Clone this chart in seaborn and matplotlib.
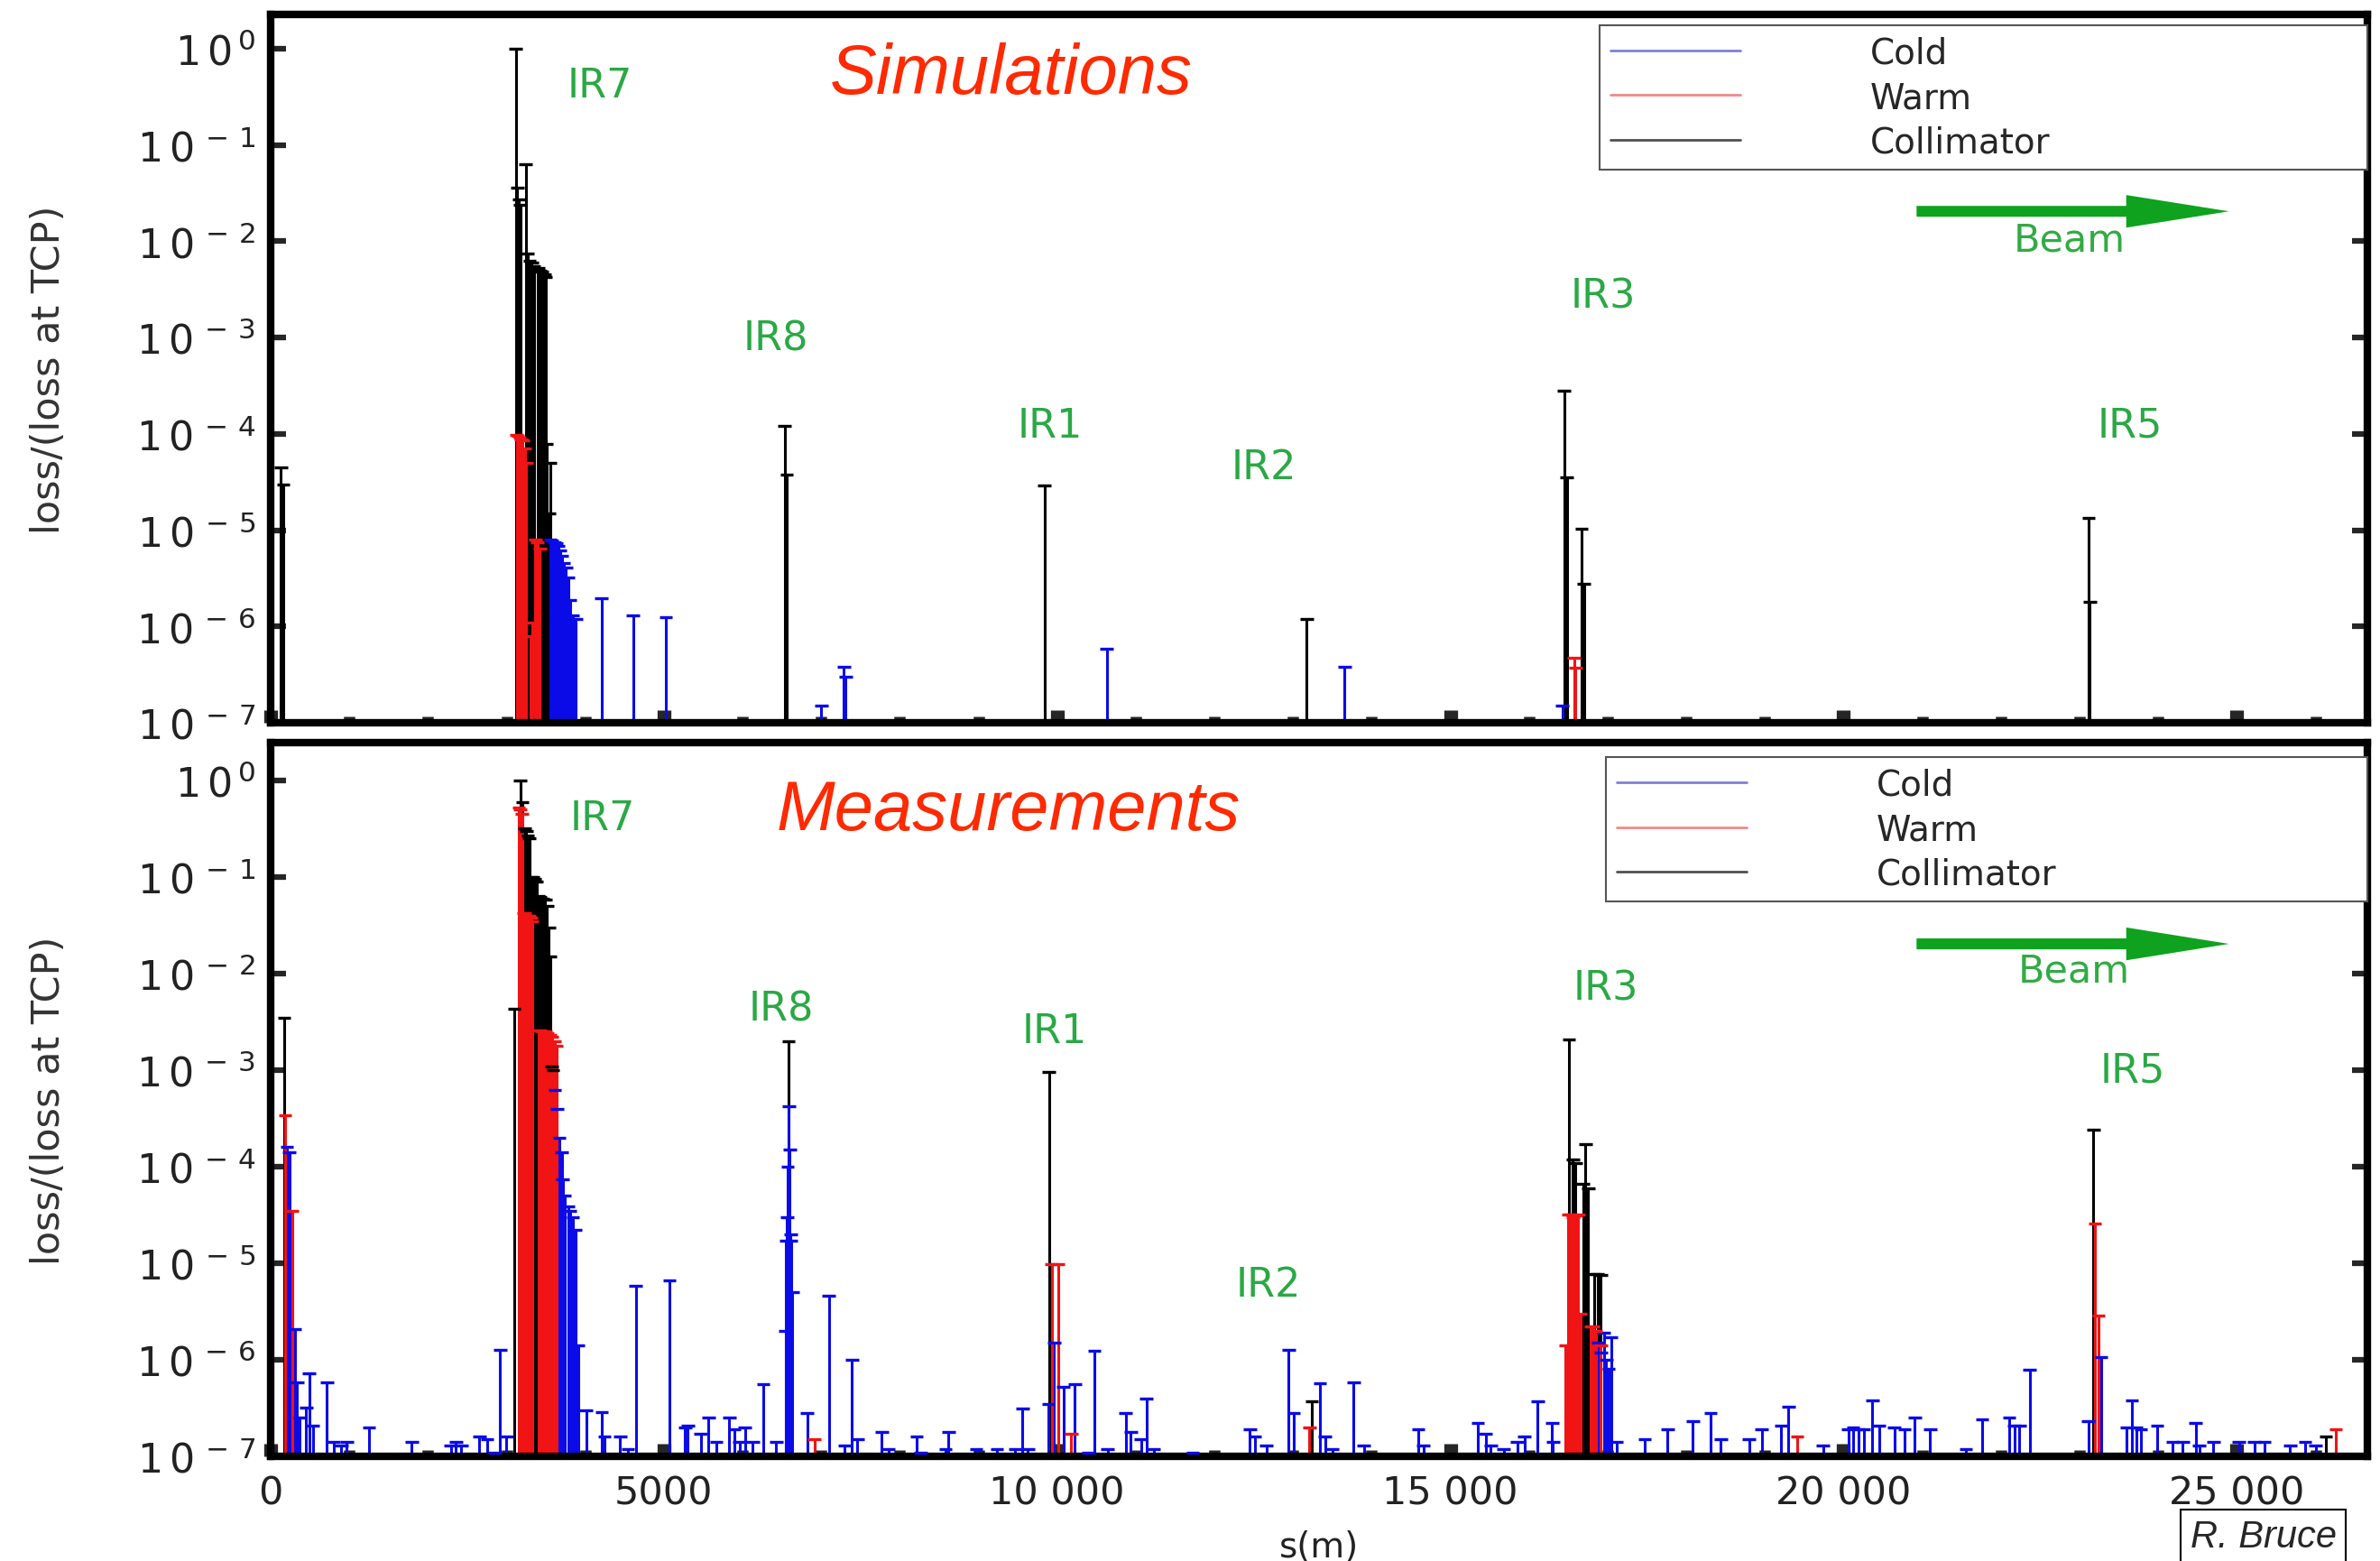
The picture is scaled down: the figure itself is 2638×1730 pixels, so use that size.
import matplotlib
matplotlib.use("Agg")
import pandas as pd
import matplotlib.pyplot as plt
import seaborn as sns
from matplotlib.lines import Line2D
from matplotlib.patches import FancyArrow
from matplotlib.ticker import MultipleLocator, NullLocator, NullFormatter

# ---------------- data (s in m, loss normalised to loss at TCP) ----------------
top_cold_s = [3555, 3580, 3605, 3630, 3655, 3680, 3705, 3730, 3755, 3780, 3803,
              3842, 3880, 4205, 4606, 5026, 7000, 7290, 7310, 10630, 13656, 16422]
top_cold_v = [7.9e-6, 7.8e-6, 7.5e-6, 7.3e-6, 6.9e-6, 6.2e-6, 5.4e-6, 4.6e-6, 4.1e-6, 3.2e-6, 1.9e-6,
              1.3e-6, 1.2e-6, 1.95e-6, 1.3e-6, 1.25e-6, 1.5e-7, 3.8e-7, 3.0e-7, 5.9e-7, 3.8e-7, 1.5e-7]

top_warm_s = [3127, 3145, 3165, 3185, 3205, 3230, 3249, 3306, 3330, 3364, 3390, 3421, 16571, 16590]
top_warm_v = [9.8e-5, 9.5e-5, 9.2e-5, 8.8e-5, 8.5e-5, 7.0e-5, 5.0e-5, 8.0e-7, 1.1e-6, 8.0e-6, 7.5e-6, 6.5e-6,
              4.7e-7, 3.7e-7]

top_coll_s = [130, 160, 3116, 3135, 3155, 3173, 3241, 3268, 3290, 3320, 3345, 3400, 3421, 3450, 3479, 3497,
              3509, 3536, 3555, 6535, 6560, 9838, 13173, 16445, 16480, 16667, 16697, 23115, 23130]
top_coll_v = [4.5e-5, 3.0e-5, 1.0, 0.036, 0.027, 0.024, 0.063, 7.5e-3, 6.3e-3, 6.0e-3, 5.5e-3, 5.3e-3, 5.0e-3,
              4.8e-3, 4.5e-3, 4.3e-3, 7.9e-5, 1.5e-5, 5.0e-5, 1.2e-4, 3.8e-5, 2.9e-5, 1.2e-6, 2.8e-4, 3.5e-5,
              1.04e-5, 2.8e-6, 1.34e-5, 1.8e-6]

bot_cold_s = [205, 238, 305, 338, 371, 450, 490, 536, 715, 801, 900, 967, 1251, 1794, 2291, 2357, 2423, 2655,
              2754, 2853, 2919, 2999,
              3612, 3640, 3670, 3700, 3714, 3740, 3780, 3810, 3845, 3879, 3912, 4012, 4210, 4243, 4442, 4541,
              4641, 5071, 5270, 5303, 5468, 5567, 5667, 5832, 5898, 5960, 6031, 6130, 6262, 6428,
              6545, 6555, 6565, 6575, 6590, 6600, 6610, 6620, 6635,
              6821, 7097, 7294, 7393, 7460, 7770, 7856, 8212, 8265, 8580, 8620, 8970, 9232, 9462, 9561, 9627, 9890,
              9960, 10080, 10225, 10396, 10475, 10640, 10870, 10935, 11067, 11133, 11232, 11725,
              12450, 12516, 12661, 12944, 13010, 13339, 13405, 13504, 13768, 13900, 14591, 14657, 15349, 15448,
              15514, 15678, 15850, 15942, 16111, 16293, 16305,
              16882, 16914, 16950, 16980, 17010, 17044, 17110, 17470, 17760, 18083, 18310, 18439, 18796, 18957,
              19203, 19300, 19738, 20060, 20120, 20190, 20255, 20365, 20450, 20645, 20775, 20905, 21100, 21555,
              21760, 22105, 22170, 22235, 22365,
              23112, 23275, 23600, 23664, 23720, 23780, 23988, 24183, 24313, 24475, 24520, 24702, 25027, 25222,
              25352, 25676, 25870, 26000]
bot_cold_v = [1.6e-4, 1.4e-4, 2.1e-6, 5.9e-7, 2.5e-7, 3.2e-7, 7.2e-7, 2.1e-7, 5.9e-7, 1.4e-7, 1.3e-7, 1.4e-7,
              2.0e-7, 1.4e-7, 1.3e-7, 1.4e-7, 1.3e-7, 1.6e-7, 1.5e-7, 1.1e-7, 1.26e-6, 1.6e-7,
              6.2e-4, 4.0e-4, 2.0e-4, 1.4e-4, 7.4e-5, 5.0e-5, 3.9e-5, 3.5e-5, 3.0e-5, 2.2e-5, 1.4e-6, 3.0e-7,
              2.9e-7, 1.6e-7, 1.6e-7, 1.2e-7, 5.9e-6, 6.6e-6, 2.0e-7, 2.1e-7, 1.7e-7, 2.5e-7, 1.4e-7, 2.5e-7,
              1.9e-7, 1.4e-7, 2.0e-7, 1.4e-7, 5.6e-7, 1.4e-7,
              2.0e-6, 1.7e-5, 3.0e-5, 1.0e-4, 4.2e-4, 1.5e-4, 2.0e-5, 1.7e-5, 5.0e-6,
              2.8e-7, 4.6e-6, 1.3e-7, 1.0e-6, 1.5e-7, 1.8e-7, 1.2e-7, 1.6e-7, 1.1e-7, 1.2e-7, 1.8e-7, 1.2e-7,
              1.2e-7, 1.2e-7, 3.1e-7, 1.2e-7, 3.5e-7,
              1.5e-6, 5.2e-7, 5.6e-7, 1.1e-7, 1.25e-6, 1.2e-7, 2.8e-7, 1.8e-7, 1.5e-7, 4.0e-7, 1.2e-7, 1.1e-7,
              1.9e-7, 1.6e-7, 1.3e-7, 1.26e-6, 2.8e-7, 5.7e-7, 1.6e-7, 1.2e-7, 5.9e-7, 1.3e-7, 1.9e-7, 1.3e-7,
              2.2e-7, 1.7e-7, 1.3e-7, 1.2e-7, 1.4e-7, 1.6e-7, 3.7e-7, 2.2e-7, 1.4e-7,
              1.5e-6, 1.2e-6, 1.9e-6, 1.0e-6, 8.0e-7, 1.7e-6, 1.4e-7, 1.5e-7, 1.9e-7, 2.3e-7, 2.8e-7, 1.5e-7,
              1.5e-7, 1.9e-7, 2.1e-7, 3.3e-7, 1.3e-7, 1.9e-7, 2.0e-7, 1.9e-7, 1.9e-7, 3.8e-7, 2.1e-7, 2.0e-7,
              1.9e-7, 2.5e-7, 1.9e-7, 1.2e-7, 2.4e-7, 2.5e-7, 2.1e-7, 2.1e-7, 7.9e-7,
              2.3e-7, 1.07e-6, 2.0e-7, 3.8e-7, 2.0e-7, 1.9e-7, 2.1e-7, 1.4e-7, 1.4e-7, 2.2e-7, 1.3e-7, 1.4e-7,
              1.4e-7, 1.4e-7, 1.4e-7, 1.3e-7, 1.4e-7, 1.3e-7]

bot_warm_s = [185, 271, 3154, 3175, 3195, 3211, 3230, 3250, 3270, 3290, 3310, 3326, 3402, 3430, 3460, 3490,
              3520, 3550, 3580, 3610, 3632, 6913, 9930, 10010, 10178, 13207, 16463, 16495, 16530, 16560, 16590,
              16625, 16655, 16785, 16815, 16850, 16914, 19410, 23196, 23240, 26260]
bot_warm_v = [3.4e-4, 3.5e-5, 0.52, 0.50, 0.45, 0.042, 0.042, 0.040, 0.040, 0.040, 0.038, 0.035, 2.6e-3,
              2.6e-3, 2.5e-3, 2.5e-3, 2.4e-3, 2.3e-3, 2.2e-3, 2.0e-3, 1.8e-3, 1.5e-7, 9.8e-6, 9.8e-6, 1.7e-7,
              2.0e-7, 1.4e-6, 3.2e-5, 3.2e-5, 3.0e-5, 3.1e-5, 3.2e-5, 3.0e-6, 2.2e-6, 2.2e-6, 2.0e-6, 1.4e-6,
              1.6e-7, 2.6e-5, 2.9e-6, 1.9e-7]

bot_coll_s = [172, 3098, 3173, 3203, 3230, 3250, 3270, 3288, 3307, 3330, 3360, 3383, 3402, 3430, 3460, 3490,
              3515, 3536, 3555, 3574, 3593, 6583, 9896, 13240, 16508, 16557, 16590, 16687, 16719, 16752, 16830,
              16870, 16914, 23177, 26130]
bot_coll_v = [3.5e-3, 4.3e-3, 1.0, 0.6, 0.32, 0.30, 0.27, 0.25, 0.10, 0.10, 0.095, 0.09, 0.063, 0.062, 0.060,
              0.058, 0.050, 0.030, 0.015, 1.1e-3, 1.0e-3, 2.0e-3, 9.6e-4, 3.7e-7, 2.1e-3, 1.2e-4, 1.1e-4, 6.6e-5,
              1.7e-4, 6.0e-5, 7.7e-6, 7.7e-6, 7.5e-6, 2.4e-4, 1.6e-7]

ir_names = ['IR7', 'IR8', 'IR1', 'IR2', 'IR3', 'IR5']
types = ['Cold', 'Warm', 'Collimator']
xtick_vals = [0, 5000, 10000, 15000, 20000, 25000]
xtick_labels = ['0', '5000', '10 000', '15 000', '20 000', '25 000']
ytick_exp = [0, -1, -2, -3, -4, -5, -6, -7]

# ---------------- style ----------------
sns.set_style("ticks")
plt.rcParams['font.family'] = ['DejaVu Sans']
plt.rcParams['mathtext.fontset'] = 'dejavusans'

colors = {'Cold': '#0b0be8', 'Warm': '#f01414', 'Collimator': '#000000'}
legend_colors = {'Cold': '#8080d8', 'Warm': '#f08a8a', 'Collimator': '#505050'}
ir_green = '#2aa845'
arrow_green = '#0ea21e'
title_red = '#ff2a00'
ymin = 1e-7


def make_df(cs, cv, ws, wv, ks, kv):
    return pd.concat([
        pd.DataFrame({'s': ks, 'loss': kv, 'type': 'Collimator'}),
        pd.DataFrame({'s': cs, 'loss': cv, 'type': 'Cold'}),
        pd.DataFrame({'s': ws, 'loss': wv, 'type': 'Warm'}),
    ], ignore_index=True)


top = make_df(top_cold_s, top_cold_v, top_warm_s, top_warm_v, top_coll_s, top_coll_v)
bot = make_df(bot_cold_s, bot_cold_v, bot_warm_s, bot_warm_v, bot_coll_s, bot_coll_v)

fig = plt.figure(figsize=(26.38, 17.31), dpi=100)
ax_top = fig.add_axes([0.11372, 0.53669, 0.88097, 0.45350])
ax_bot = fig.add_axes([0.11372, 0.06701, 0.88097, 0.45696])


def draw_panel(ax, df, ymax):
    for kind in ['Collimator', 'Cold', 'Warm']:
        d = df[df['type'] == kind]
        ax.vlines(d['s'], ymin, d['loss'], color=colors[kind], lw=2.2, zorder=2)
    sns.scatterplot(data=df, x='s', y='loss', hue='type', palette=colors, marker='_', s=110,
                    linewidth=2.4, legend=False, ax=ax, zorder=3)
    ax.set_yscale('log')
    ax.set_xlim(0, 26659)
    ax.set_ylim(ymin, ymax)
    ax.set_xticks(xtick_vals)
    ax.xaxis.set_minor_locator(MultipleLocator(1000))
    ax.set_yticks([10.0 ** e for e in ytick_exp])
    ax.set_yticklabels([r'$\mathregular{1\,0^{\,%s}}$' % (r'-\,%d' % -e if e < 0 else '0') for e in ytick_exp])
    ax.yaxis.set_minor_locator(NullLocator())
    ax.yaxis.set_minor_formatter(NullFormatter())
    ax.tick_params(axis='y', which='major', direction='in', left=True, right=True,
                   length=12, width=4.5, labelsize=32, pad=12, labelcolor='#222222')
    ax.tick_params(axis='x', which='major', direction='in', bottom=True, top=False,
                   length=10, width=11, labelsize=31, pad=14, labelcolor='#222222')
    ax.tick_params(axis='x', which='minor', direction='in', bottom=True, top=False, length=5, width=9)
    for sp in ax.spines.values():
        sp.set_visible(True)
        sp.set_linewidth(6)
        sp.set_color('black')
    ax.set_xlabel('')
    ax.set_ylabel('loss/(loss at TCP)', fontsize=31,
                  family=['Liberation Sans Narrow', 'DejaVu Sans'], color='#333333')
    ax.yaxis.set_label_coords(-0.097, 0.5)

    handles = [Line2D([0], [0], color=legend_colors[t], lw=2) for t in types]
    return handles


h = draw_panel(ax_top, top, 2.27)
draw_panel(ax_bot, bot, 2.47)

ax_top.tick_params(axis='x', labelbottom=False)
ax_bot.set_xticklabels(xtick_labels)
ax_bot.set_xlabel('s(m)', fontsize=28, labelpad=14, color='#222222')

# legends
for ax, x0, ytop in [(ax_top, 0.634, 0.985), (ax_bot, 0.637, 0.980)]:
    leg = ax.legend(h, types, loc='upper left', bbox_to_anchor=(x0, ytop - 0.2, 1.0 - x0, 0.2),
                    mode='expand', fontsize=28, handlelength=3.7, handletextpad=3.7,
                    labelspacing=0.3, borderpad=0.3, borderaxespad=0, frameon=True, fancybox=False)
    leg.get_frame().set_edgecolor('#555555')
    leg.get_frame().set_linewidth(1.5)
    leg.get_frame().set_alpha(1)

# beam arrows
for ax, y_arr, x_txt, y_txt in [(ax_top, 0.722, 0.858, 0.682), (ax_bot, 0.718, 0.860, 0.681)]:
    ax.add_patch(FancyArrow(0.785, y_arr, 0.149, 0, width=0.0153, head_width=0.046, head_length=0.049,
                            length_includes_head=True, transform=ax.transAxes, color=arrow_green, lw=0,
                            zorder=4))
    ax.text(x_txt, y_txt, 'Beam', transform=ax.transAxes, ha='center', va='center', fontsize=31,
            color='#33aa44')

# titles
ax_top.text(0.353, 0.915, 'Simulations', transform=ax_top.transAxes, ha='center', va='center',
            fontsize=56, style='italic', family=['Liberation Sans', 'DejaVu Sans'], color=title_red)
ax_bot.text(0.352, 0.904, 'Measurements', transform=ax_bot.transAxes, ha='center', va='center',
            fontsize=56, style='italic', family=['Liberation Sans', 'DejaVu Sans'], color=title_red)

# IR labels
top_ir_pos = [(4180, -0.38), (6419, -3.01), (9912, -3.91), (12634, -4.34), (16938, -2.57), (23635, -3.91)]
bot_ir_pos = [(4215, -0.39), (6493, -2.36), (9967, -2.59), (12689, -5.22), (16974, -2.15), (23670, -3.0)]
for ax, pos in [(ax_top, top_ir_pos), (ax_bot, bot_ir_pos)]:
    for name, (xs, ly) in zip(ir_names, pos):
        ax.text(xs, 10 ** ly, name, ha='center', va='center', fontsize=32, color=ir_green, zorder=5)

fig.text(0.951, 0.004, 'R. Bruce', ha='center', va='bottom', fontsize=30, style='italic',
         family=['Liberation Sans', 'DejaVu Sans'],
         bbox=dict(boxstyle='square,pad=0.25', fc='white', ec='black', lw=1.5))

fig.savefig('out.png', dpi=100, facecolor='white')
